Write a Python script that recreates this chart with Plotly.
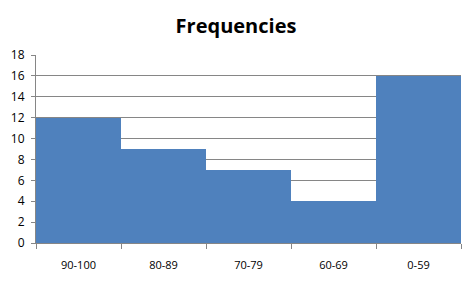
import plotly.graph_objects as go

categories = ["90-100", "80-89", "70-79", "60-69", "0-59"]
frequencies = [12, 9, 7, 4, 16]
y_ticks = [0, 2, 4, 6, 8, 10, 12, 14, 16, 18]

fig = go.Figure(go.Bar(x=categories, y=frequencies, marker=dict(color="#4F81BD", line=dict(width=0))))

fig.update_layout(
    width=472, height=287,
    margin=dict(l=36, r=11, t=55, b=44),
    paper_bgcolor="white", plot_bgcolor="white",
    bargap=0,
    showlegend=False,
    font=dict(family="Open Sans, Liberation Sans, sans-serif", size=11, color="black"),
    title=dict(text="<b>Frequencies</b>", x=0.5, xanchor="center", y=0.91, yanchor="middle",
               font=dict(size=20, family="Open Sans, Liberation Sans, sans-serif", color="black")),
)
fig.update_xaxes(
    showline=True, linecolor="#868686", linewidth=1,
    ticks="outside", tickson="boundaries", ticklen=5, tickcolor="#868686",
    showgrid=False, tickfont=dict(size=11), ticklabelstandoff=12,
)
fig.update_yaxes(
    range=[0, 18], tickvals=y_ticks, showline=True, linecolor="#868686", linewidth=1,
    ticks="outside", ticklen=4, tickcolor="#868686",
    showgrid=True, gridcolor="#868686", gridwidth=1, zeroline=False,
    tickfont=dict(size=12), ticklabelstandoff=4,
)
fig.write_html("out.html")
